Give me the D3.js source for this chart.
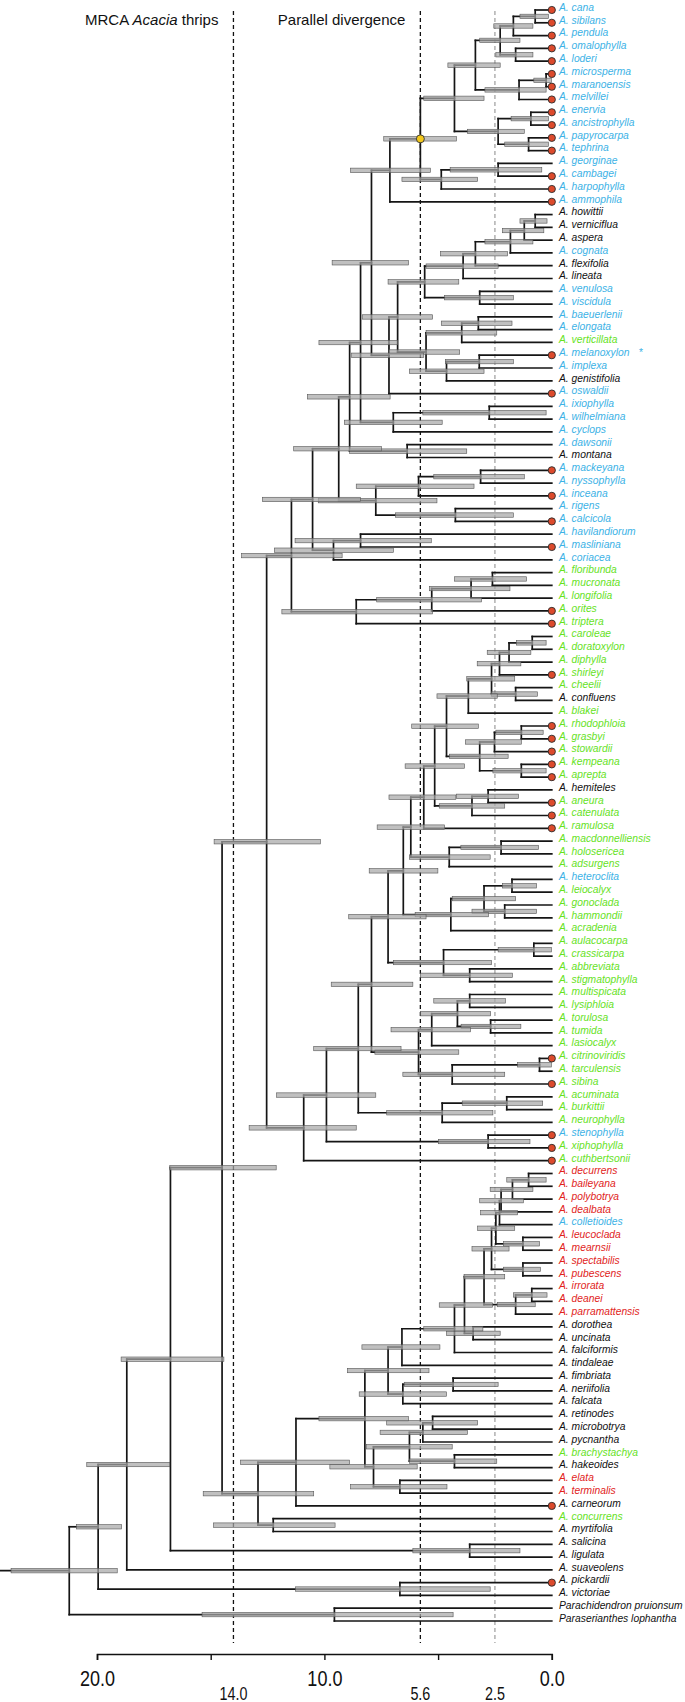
<!DOCTYPE html>
<html><head><meta charset="utf-8">
<script src="https://cdn.jsdelivr.net/npm/d3@7"></script>
<style>body{margin:0;background:#fff}svg{display:block}</style>
</head><body>
<svg id="c" width="685" height="1702"></svg>
<script>
// ---------------- DATA ----------------
const species = ["cana","sibilans","pendula","omalophylla","loderi","microsperma","maranoensis","melvillei","enervia","ancistrophylla","papyrocarpa","tephrina","georginae","cambagei","harpophylla","ammophila","howittii","verniciflua","aspera","cognata","flexifolia","lineata","venulosa","viscidula","baeuerlenii","elongata","verticillata","melanoxylon","implexa","genistifolia","oswaldii","ixiophylla","wilhelmiana","cyclops","dawsonii","montana","mackeyana","nyssophylla","inceana","rigens","calcicola","havilandiorum","masliniana","coriacea","floribunda","mucronata","longifolia","orites","triptera","caroleae","doratoxylon","diphylla","shirleyi","cheelii","confluens","blakei","rhodophloia","grasbyi","stowardii","kempeana","aprepta","hemiteles","aneura","catenulata","ramulosa","macdonnelliensis","holosericea","adsurgens","heteroclita","leiocalyx","gonoclada","hammondii","acradenia","aulacocarpa","crassicarpa","abbreviata","stigmatophylla","multispicata","lysiphloia","torulosa","tumida","lasiocalyx","citrinoviridis","tarculensis","sibina","acuminata","burkittii","neurophylla","stenophylla","xiphophylla","cuthbertsonii","decurrens","baileyana","polybotrya","dealbata","colletioides","leucoclada","mearnsii","spectabilis","pubescens","irrorata","deanei","parramattensis","dorothea","uncinata","falciformis","tindaleae","fimbriata","neriifolia","falcata","retinodes","microbotrya","pycnantha","brachystachya","hakeoides","elata","terminalis","carneorum","concurrens","myrtifolia","salicina","ligulata","suaveolens","pickardii","victoriae","Parachidendron_pruionsum","Paraserianthes_lophantha"];

const blueTips = ["cana","sibilans","pendula","omalophylla","loderi","microsperma","maranoensis","melvillei","enervia","ancistrophylla","papyrocarpa","tephrina","georginae","cambagei","harpophylla","ammophila","cognata","venulosa","viscidula","baeuerlenii","elongata","melanoxylon","implexa","oswaldii","ixiophylla","wilhelmiana","cyclops","dawsonii","mackeyana","nyssophylla","inceana","rigens","calcicola","havilandiorum","masliniana","coriacea","heteroclita","stenophylla","colletioides"];
const greenTips = ["verticillata","floribunda","mucronata","longifolia","orites","triptera","caroleae","doratoxylon","diphylla","shirleyi","cheelii","blakei","rhodophloia","grasbyi","stowardii","kempeana","aprepta","aneura","catenulata","ramulosa","macdonnelliensis","holosericea","adsurgens","leiocalyx","gonoclada","hammondii","acradenia","aulacocarpa","crassicarpa","abbreviata","stigmatophylla","multispicata","lysiphloia","torulosa","tumida","lasiocalyx","citrinoviridis","tarculensis","sibina","acuminata","burkittii","neurophylla","xiphophylla","cuthbertsonii","brachystachya","concurrens"];
const redTips = ["decurrens","baileyana","polybotrya","dealbata","leucoclada","mearnsii","spectabilis","pubescens","irrorata","deanei","parramattensis","elata","terminalis"];
const circledTips = ["cana","sibilans","pendula","omalophylla","loderi","microsperma","maranoensis","melvillei","enervia","ancistrophylla","papyrocarpa","tephrina","cambagei","harpophylla","ammophila","melanoxylon","oswaldii","mackeyana","inceana","calcicola","masliniana","orites","triptera","shirleyi","rhodophloia","grasbyi","stowardii","kempeana","aprepta","aneura","catenulata","ramulosa","citrinoviridis","sibina","stenophylla","xiphophylla","cuthbertsonii","carneorum","pickardii"];
const starredTips = ["melanoxylon"];
const yellowNodeSpan = ["cana","harpophylla"];   // MRCA marked with yellow dot

// internal node labels: age|HPD low|HPD high  (Ma)
const cA = "((((cana,sibilans)0.73|0.15|1.40,pendula)1.69|0.83|2.55,(omalophylla,loderi)1.59|0.83|2.46)2.27|1.40|3.17,((microsperma,maranoensis)0.25|0.02|0.79,melvillei)1.44|0.25|2.94)3.36|2.27|4.57";
const cB = "((enervia,ancistrophylla)0.92|0.15|1.79,(papyrocarpa,tephrina)1.02|0.15|2.07)2.36|1.21|3.71";
const cC = "((georginae,cambagei)2.36|0.44|4.47,harpophylla)4.86|3.26|6.59";
const cYellow = `((${cA},${cB})4.28|2.98|5.63,${cC})5.78|4.19|7.39`;
const cD = `(${cYellow},ammophila)7.12|5.34|8.85`;
const cE = "((((((howittii,verniciflua)0.73|0.21|1.40,aspera)1.21|0.35|2.17,cognata)1.82|0.83|2.94,flexifolia)3.36|1.94|4.90,lineata)3.90|2.36|5.53,(venulosa,viscidula)3.17|1.69|4.71)5.59|4.09|7.20";
const cF = "(((baeuerlenii,elongata)3.23|1.75|4.86,verticillata)3.96|2.42|5.53,((melanoxylon,implexa)3.19|1.69|4.67,genistifolia)4.63|2.98|6.26)5.53|4.05|7.16";
const cG = `((${cE},${cF})6.78|5.24|8.32,oswaldii)7.16|5.63|8.80`;
const cH = `(${cD},${cG})7.93|6.30|9.66`;
const cI = `((${cH},((ixiophylla,wilhelmiana)2.75|0.25|5.67,cyclops)6.97|4.82|9.12)8.41|6.78|10.24,(dawsonii,montana)6.36|3.74|8.89)8.89|7.11|10.75`;
const cJ = "(((mackeyana,nyssophylla)3.13|1.21|5.19,inceana)5.86|3.42|8.60,(rigens,calcicola)4.24|1.69|6.88)7.74|5.05|10.27";
const cK = `((${cI},${cJ})9.37|7.49|11.35,((havilandiorum,masliniana)8.41|5.30|11.29,coriacea)9.60|6.97|12.20)10.52|8.41|12.73`;
const cL = "((((floribunda,mucronata)2.61|1.11|4.28,longifolia)3.55|1.84|5.38,orites)5.28|3.09|7.70,triptera)8.60|5.24|11.87";
const cUpper = `(${cK},${cL})11.45|9.22|13.64`;

const gA = "(((((caroleae,doratoxylon)0.86|0.25|1.56,diphylla)1.88|0.92|2.84,shirleyi)2.30|1.36|3.28,(cheelii,confluens)1.59|0.63|2.65)2.65|1.63|3.74,blakei)3.67|2.40|5.05";
const gB = "(((rhodophloia,grasbyi)1.34|0.38|2.46,stowardii)2.52|1.34|3.80,(kempeana,aprepta)1.34|0.25|2.59)3.17|1.92|4.50";
const gC = `(((${gA},${gB})4.63|3.23|6.16,((hemiteles,aneura)2.80|1.46|4.19,catenulata)3.51|2.07|4.95)5.15|3.84|6.45,ramulosa)5.63|4.22|7.16`;
const gD = "((macdonnelliensis,holosericea)2.23|0.58|4.00,adsurgens)4.51|2.71|6.26";
const gE = "(((heteroclita,leiocalyx)1.75|0.67|2.17,(gonoclada,hammondii)2.07|0.67|3.51)2.98|1.59|4.38,acradenia)4.44|2.78|6.01";
const gF = "((aulacocarpa,crassicarpa)0.79|0.02|2.36,(abbreviata,stigmatophylla)3.61|1.73|5.78)4.76|2.65|6.97";
const gG = `(((${gC},${gD})6.20|4.71|7.68,${gE})6.53|5.01|8.03,${gF})7.20|5.53|8.93`;
const gH = "((((multispicata,lysiphloia)3.61|2.04|5.19,(torulosa,tumida)2.69|1.36|3.99)4.15|2.69|5.78,lasiocalyx)5.28|3.57|7.07,((citrinoviridis,tarculensis)0.54|0.02|1.50,sibina)4.38|2.07|6.55)5.86|4.09|7.78";
const gI = "((acuminata,burkittii)1.98|0.40|3.94,neurophylla)4.82|2.59|7.26";
const cGreen = `((((${gG},${gH})7.93|6.11|9.70,${gI})8.51|6.63|10.47,(stenophylla,xiphophylla)2.80|0.96|4.99)9.91|7.74|12.10,cuthbertsonii)10.91|8.60|13.31`;

const rA = "((((((decurrens,baileyana)1.02|0.25|1.98,polybotrya)1.73|0.83|2.71,dealbata)2.23|1.25|3.17,colletioides)2.30|1.50|3.13,(leucoclada,mearnsii)1.27|0.54|2.13)2.46|1.63|3.26,(spectabilis,pubescens)1.27|0.50|2.13)2.65|1.88|3.51";
const rB = `((((${rA},((irrorata,deanei)0.88|0.21|1.69,parramattensis)1.59|0.73|2.40)2.98|2.07|3.86,(dorothea,uncinata)3.46|2.27|4.63)3.84|2.60|4.95,falciformis)4.28|3.03|5.63,tindaleae)6.59|4.92|8.35`;
const rC = `(${rB},((fimbriata,neriifolia)4.34|2.36|6.49,falcata)6.55|4.63|8.47)7.20|5.40|8.99`;
const rD = "((((retinodes,microbotrya)5.24|3.26|7.26,pycnantha)5.67|3.71|7.55,(brachystachya,hakeoides)4.28|2.42|6.26)6.26|4.38|8.16,(elata,terminalis)6.68|4.61|8.85)7.84|5.92|9.76";
const cLower = `(((${rC},${rD})8.22|6.30|10.24,carneorum)11.25|8.89|13.69,(concurrens,myrtifolia)12.25|9.53|14.88)12.92|10.47|15.33`;

const treeNewick = `((((((${cUpper},${cGreen})12.54|10.18|14.85,${cLower})14.50|12.12|16.80,(salicina,ligulata)3.61|1.40|6.11)16.77|14.42|18.94,suaveolens)18.69|16.80|20.45,(pickardii,victoriae)6.68|2.71|11.27)19.95|18.92|20.90,(Parachidendron_pruionsum,Paraserianthes_lophantha)9.56|4.34|15.38)21.22|19.11|23.78`;
const rootStemAge = 24.3;

const axisTicks = [20, 15, 10, 5, 0];
const axisLabels = ["20.0", "", "10.0", "", "0.0"];
const eventAges = [14.0, 5.78, 2.5];
const eventLabels = ["14.0", "5.6", "2.5"];
const eventTitles = [["MRCA ", "Acacia", " thrips"], ["Parallel divergence"]];

// ---------------- PARSE ----------------
function parseNewick(s) {
  let i = 0;
  function readLabel() { let l = ""; while (i < s.length && !",()".includes(s[i])) l += s[i++]; return l; }
  function node() {
    if (s[i] === "(") {
      i++;
      const ch = [node()];
      while (s[i] === ",") { i++; ch.push(node()); }
      i++; // ')'
      const [a, lo, hi] = readLabel().split("|").map(Number);
      return { children: ch, age: a, lo, hi };
    }
    return { name: readLabel(), age: 0 };
  }
  return node();
}
const root = parseNewick(treeNewick);

// ---------------- SCALES ----------------
const svg = d3.select("#c");
const x = d3.scaleLinear().domain([20, 0]).range([97, 551.8]);
const y = d3.scaleLinear().domain([0, species.length - 1]).range([10, 1621]);

const internals = [];
function layout(n) {
  if (!n.children) { n.y = y(species.indexOf(n.name)); n.leaves = [n.name]; return; }
  n.children.forEach(layout);
  n.y = (n.children[0].y + n.children[n.children.length - 1].y) / 2;
  n.leaves = n.children.flatMap(c => c.leaves);
  internals.push(n);
}
layout(root);

const colorOf = nm => blueTips.includes(nm) ? "#3cb2e6" : greenTips.includes(nm) ? "#66e21e" : redTips.includes(nm) ? "#e1241c" : "#111";

// ---------------- DASHED EVENT LINES ----------------
svg.append("g").selectAll("line").data(eventAges).join("line")
  .attr("x1", d => x(d)).attr("x2", d => x(d))
  .attr("y1", 11).attr("y2", 1643)
  .attr("stroke", (d, i) => i < 2 ? "#111" : "#888")
  .attr("stroke-width", (d, i) => i < 2 ? 1.3 : 1)
  .attr("stroke-dasharray", "4,3");

// titles
const tt = svg.append("g").attr("font-family", "Liberation Sans, Arial, sans-serif").attr("font-size", 15).attr("fill", "#111");
eventTitles.forEach((parts, k) => {
  const t = tt.append("text").attr("x", x(eventAges[k]) - 15).attr("y", 25).attr("text-anchor", "end");
  parts.forEach(p => t.append("tspan").text(p).attr("font-style", p === "Acacia" ? "italic" : "normal"));
});

// ---------------- BRANCHES ----------------
const br = svg.append("g").attr("stroke", "#151515").attr("stroke-width", 1.7).attr("fill", "none").attr("stroke-linecap", "square");
br.append("path").attr("d", `M${x(rootStemAge)},${root.y}H${x(root.age)}`);
internals.forEach(n => {
  const xs = x(n.age);
  br.append("path").attr("d", `M${xs},${n.children[0].y}V${n.children[n.children.length - 1].y}`);
  n.children.forEach(c => br.append("path").attr("d", `M${xs},${c.y}H${x(c.age)}`));
});

// ---------------- HPD BARS ----------------
svg.append("g").selectAll("rect").data(internals).join("rect")
  .attr("x", d => x(d.hi)).attr("width", d => x(d.lo) - x(d.hi))
  .attr("y", d => d.y - 2.2).attr("height", 4.4)
  .attr("fill", "#a8a8a8").attr("fill-opacity", 0.72)
  .attr("stroke", "#555").attr("stroke-width", 0.6);

// ---------------- MARKERS ----------------
const yellowNode = internals.filter(n => yellowNodeSpan.every(s => n.leaves.includes(s)))
  .sort((a, b) => a.leaves.length - b.leaves.length)[0];
svg.append("circle").attr("cx", x(yellowNode.age)).attr("cy", yellowNode.y).attr("r", 4)
  .attr("fill", "#f3c81c").attr("stroke", "#333").attr("stroke-width", 0.9);

svg.append("g").selectAll("circle").data(circledTips).join("circle")
  .attr("cx", x(0)).attr("cy", d => y(species.indexOf(d))).attr("r", 3.6)
  .attr("fill", "#dc4a2c").attr("stroke", "#2a2a2a").attr("stroke-width", 0.9);

// ---------------- TIP LABELS ----------------
const lab = svg.append("g").attr("font-family", "Liberation Sans, Arial, sans-serif").attr("font-size", 10.3).attr("font-style", "italic");
species.forEach((nm, i) => {
  const txt = nm.includes("_") ? nm.replace("_", " ") : "A. " + nm;
  lab.append("text").attr("x", 559).attr("y", y(i) + 0.8).attr("fill", colorOf(nm)).text(txt);
  if (starredTips.includes(nm))
    lab.append("text").attr("x", 639).attr("y", y(i) + 0.8).attr("fill", colorOf(nm)).attr("font-style", "normal").text("*");
});

// ---------------- AXIS ----------------
const axisY = 1654;
const ax = svg.append("g").attr("transform", `translate(0,${axisY})`)
  .call(d3.axisBottom(x).tickValues(axisTicks).tickSizeOuter(0).tickSize(6)
    .tickFormat((d, i) => axisLabels[i]));
ax.select(".domain").attr("stroke", "#111").attr("stroke-width", 1.6);
ax.selectAll(".tick line").attr("stroke", "#111").attr("stroke-width", 1.4);
ax.selectAll(".tick text").attr("font-family", "Liberation Sans, Arial, sans-serif").attr("font-size", 22)
  .attr("fill", "#111").attr("y", 32).attr("dy", 0).attr("transform", "scale(0.82,1)");

svg.append("g").selectAll("text").data(eventAges).join("text")
  .attr("transform", d => `translate(${x(d)},1700) scale(0.82,1)`)
  .attr("text-anchor", "middle").attr("font-family", "Liberation Sans, Arial, sans-serif").attr("font-size", 17.5)
  .attr("fill", "#111").text((d, i) => eventLabels[i]);
</script>
</body></html>
